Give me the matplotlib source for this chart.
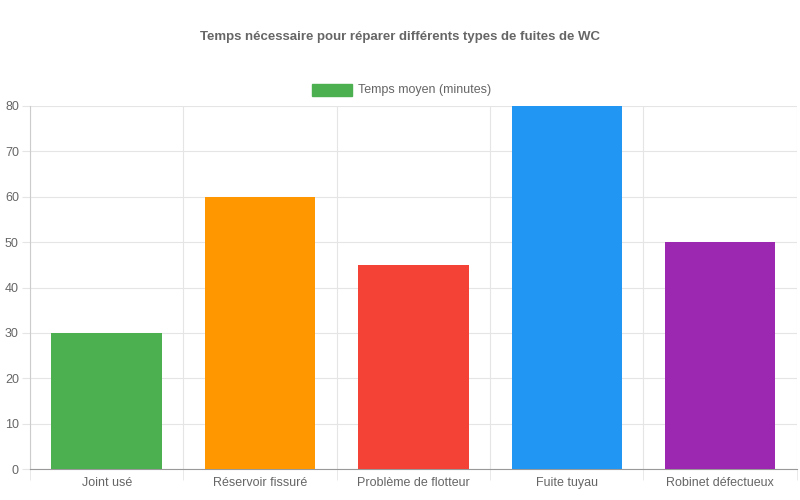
import matplotlib
matplotlib.use("Agg")
import matplotlib.pyplot as plt
import numpy as np

categories = ["Joint usé", "Réservoir fissuré", "Problème de flotteur", "Fuite tuyau", "Robinet défectueux"]
values = [30, 60, 45, 80, 50]
colors = ["#4caf50", "#ff9800", "#f44336", "#2196f3", "#9c27b0"]
title = "Temps nécessaire pour réparer différents types de fuites de WC"
series_label = "Temps moyen (minutes)"

plt.rcParams['font.family'] = ['Liberation Sans', 'DejaVu Sans']
fig = plt.figure(figsize=(8, 5), dpi=100)
ax = fig.add_axes([0.0375, 0.062, 0.9585, 0.726])
x = np.arange(len(categories))
ax.bar(x, values, width=0.72, color=colors, zorder=3)
ax.set_xlim(-0.5, len(categories) - 0.5)
ax.set_ylim(0, 80)
ax.set_yticks(range(0, 81, 10))
ax.set_xticks(x)
ax.set_xticklabels(categories)
ax.set_xticks(np.arange(-0.5, len(categories)), minor=True)
ax.grid(True, which='major', axis='y', color='#e5e5e5', linewidth=0.8, zorder=0)
ax.grid(True, which='minor', axis='x', color='#e5e5e5', linewidth=0.8, zorder=0)
ax.tick_params(axis='x', which='major', length=0, pad=6, labelsize=9, colors='#666666')
ax.tick_params(axis='x', which='minor', length=8, color='#e5e5e5')
ax.tick_params(axis='y', length=6, color='#e5e5e5', labelsize=9, labelcolor='#666666', pad=2)
for s in ['top', 'right']:
    ax.spines[s].set_visible(False)
ax.spines['left'].set_color('#cccccc')
ax.spines['bottom'].set_color('#999999')
fig.text(0.5, 0.926, title, ha='center', va='center', fontsize=9.5, fontweight='bold', color='#666666')
fig.patches.append(plt.Rectangle((312/800, 1-96/500), 40/800, 12/500, transform=fig.transFigure, color=colors[0]))
fig.text(358/800, 1-90/500, series_label, ha='left', va='center', fontsize=9, color='#666666')
fig.savefig("out.png", dpi=100)
